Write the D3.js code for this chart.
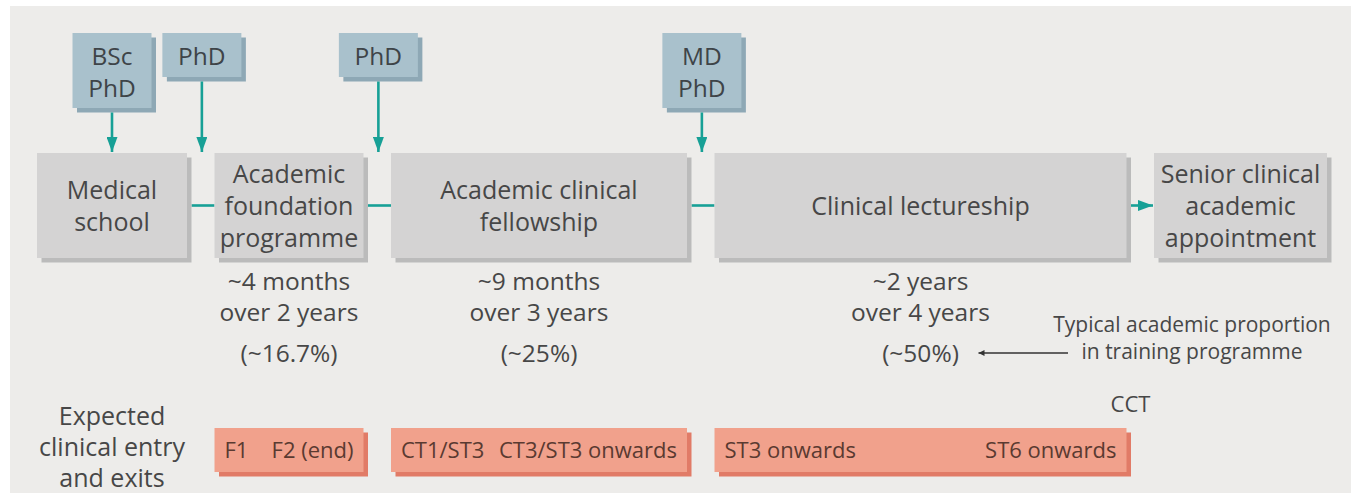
<!DOCTYPE html>
<html>
<head>
<meta charset="utf-8">
<script src="https://cdn.jsdelivr.net/npm/d3@7"></script>
<style>
  html, body { margin: 0; padding: 0; background: #ffffff; }
  svg { display: block; }
  text { font-family: "Open Sans", "Noto Sans", sans-serif; }
</style>
</head>
<body>
<svg id="chart" width="1351" height="493"></svg>
<script>
// ---------------- DATA ----------------
const stages = [
  ["Medical", "school"],
  ["Academic", "foundation", "programme"],
  ["Academic clinical", "fellowship"],
  ["Clinical lectureship"],
  ["Senior clinical", "academic", "appointment"]
];
// academic time, over programme length (for stages 1..3)
const academicTime = ["~4 months", "~9 months", "~2 years"];
const programmeLength = ["over 2 years", "over 3 years", "over 4 years"];
const proportions = ["(~16.7%)", "(~25%)", "(~50%)"];
// entry routes: label lines and where they enter (a stage, or the gap after a stage)
const entryLabels = [["BSc", "PhD"], ["PhD"], ["PhD"], ["MD", "PhD"]];
const entryTargets = ["stage0", "gap0", "gap1", "gap2"];
// clinical entry and exit points per academic stage (stages 1..3)
const exitEntry = ["F1", "CT1/ST3", "ST3 onwards"];
const exitExit = ["F2 (end)", "CT3/ST3 onwards", "ST6 onwards"];
const rowLabel = ["Expected", "clinical entry", "and exits"];
const noteLabel = ["Typical academic proportion", "in training programme"];
const finalLabel = "CCT";

// ---------------- LAYOUT (styles) ----------------
const stageUnits = [150, 149, 296, 412, 173];
const gapUnits = 27.5;
const colors = {
  bg: "#edecea", box: "#d4d3d3", boxShadow: "#bbbbbb",
  blue: "#a9c1cc", blueShadow: "#8ea8b5",
  salmon: "#f1a18c", salmonShadow: "#e17b67",
  teal: "#17a096", text: "#474747", exitText: "#5a3a31"
};

const svg = d3.select("#chart");
svg.append("rect").attr("x", 10).attr("y", 6).attr("width", 1341).attr("height", 487).attr("fill", colors.bg);

let acc = 0;
const stageExt = stageUnits.map((w, i) => { const s = acc; acc += w + (i < stageUnits.length - 1 ? gapUnits : 0); return [s, s + w]; });
const x = d3.scaleLinear().domain([0, acc]).range([37, 1327]);

const boxTop = 153, boxH = 105, shadow = 4.5;
const midY = boxTop + boxH / 2;

function sRect(g, x0, y0, w, h, fill, sh) {
  g.append("rect").attr("x", x0 + shadow).attr("y", y0 + shadow).attr("width", w).attr("height", h).attr("fill", sh);
  g.append("rect").attr("x", x0).attr("y", y0).attr("width", w).attr("height", h).attr("fill", fill);
}
function multiText(g, lines, cx, baseline0, lh, size, fill, anchor) {
  const t = g.append("text").attr("text-anchor", anchor || "middle").attr("font-size", size).attr("fill", fill);
  lines.forEach((l, i) => t.append("tspan").attr("x", cx).attr("y", baseline0 + i * lh).text(l));
  return t;
}

const defs = svg.append("defs");
defs.append("marker").attr("id", "tealHead").attr("viewBox", "0 0 15 11").attr("refX", 15).attr("refY", 5.5)
  .attr("markerWidth", 15).attr("markerHeight", 11).attr("markerUnits", "userSpaceOnUse").attr("orient", "auto")
  .append("path").attr("d", "M0,0 L15,5.5 L0,11 Z").attr("fill", colors.teal);
defs.append("marker").attr("id", "darkHead").attr("viewBox", "0 0 10 10").attr("refX", 10).attr("refY", 5)
  .attr("markerWidth", 11).attr("markerHeight", 6).attr("markerUnits", "userSpaceOnUse").attr("orient", "auto")
  .append("path").attr("d", "M0,0 L10,5 L0,10 Z").attr("fill", "#333");

// connectors between stages
const gConn = svg.append("g");
stageExt.slice(0, -1).forEach((ext, i) => {
  const x0 = x(ext[1]) + shadow, x1 = x(stageExt[i + 1][0]);
  const last = i === stageExt.length - 2;
  gConn.append("line").attr("x1", x0).attr("x2", last ? x1 - 1 : x1).attr("y1", midY).attr("y2", midY)
    .attr("stroke", colors.teal).attr("stroke-width", 2.6)
    .attr("marker-end", last ? "url(#tealHead)" : null);
});

// stage boxes
const gStage = svg.append("g");
stages.forEach((lines, i) => {
  const [a, b] = stageExt[i];
  sRect(gStage, x(a), boxTop, x(b) - x(a), boxH, colors.box, colors.boxShadow);
  const lh = 32, size = 25;
  const b0 = midY + 9 - (lines.length - 1) * lh / 2;
  multiText(gStage, lines, (x(a) + x(b)) / 2, b0, lh, size, colors.text);
});

// entry routes
const gEntry = svg.append("g");
entryLabels.forEach((lines, i) => {
  const t = entryTargets[i];
  const idx = +t.replace(/\D/g, "");
  const cx = t.startsWith("stage") ? (x(stageExt[idx][0]) + x(stageExt[idx][1])) / 2
                                   : (x(stageExt[idx][1]) + shadow / 2 + x(stageExt[idx + 1][0])) / 2;
  const w = 79, top = 33, h = lines.length === 1 ? 44 : 75;
  sRect(gEntry, cx - w / 2, top, w, h, colors.blue, colors.blueShadow);
  multiText(gEntry, lines, cx, top + 32, 32, 24.5, "#3e4448");
  gEntry.append("line").attr("x1", cx).attr("x2", cx).attr("y1", top + h + shadow).attr("y2", boxTop - 1)
    .attr("stroke", colors.teal).attr("stroke-width", 2.6).attr("marker-end", "url(#tealHead)");
});

// durations and proportions
const gDur = svg.append("g");
academicTime.forEach((d, k) => {
  const i = k + 1;
  const cx = (x(stageExt[i][0]) + x(stageExt[i][1])) / 2;
  multiText(gDur, [d, programmeLength[k]], cx, 290, 30.5, 24.5, colors.text);
  multiText(gDur, [proportions[k]], cx, 362, 30, 24.5, colors.text);
});

// note with arrow
const lastCx = (x(stageExt[3][0]) + x(stageExt[3][1])) / 2;
multiText(gDur, noteLabel, 1192, 332, 27, 21, colors.text);
gDur.append("line").attr("x1", 1068).attr("x2", lastCx + 58).attr("y1", 353).attr("y2", 353)
  .attr("stroke", "#333").attr("stroke-width", 1.6).attr("marker-end", "url(#darkHead)");

// row label
multiText(svg, rowLabel, x(stageExt[0][0] + stageUnits[0] / 2), 425, 31, 25, colors.text);

// exit bars
const gExit = svg.append("g");
const barTop = 428, barH = 44;
exitEntry.forEach((e, k) => {
  const i = k + 1;
  const [a, b] = stageExt[i];
  sRect(gExit, x(a), barTop, x(b) - x(a), barH, colors.salmon, colors.salmonShadow);
  gExit.append("text").attr("x", x(a) + 10).attr("y", barTop + 30).attr("font-size", 22).attr("fill", colors.exitText).text(e);
  gExit.append("text").attr("x", x(b) - 10).attr("y", barTop + 30).attr("text-anchor", "end").attr("font-size", 22).attr("fill", colors.exitText).text(exitExit[k]);
});
svg.append("text").attr("x", x(stageExt[3][1]) + 4).attr("y", 412).attr("text-anchor", "middle")
  .attr("font-size", 22).attr("fill", colors.text).text(finalLabel);
</script>
</body>
</html>
